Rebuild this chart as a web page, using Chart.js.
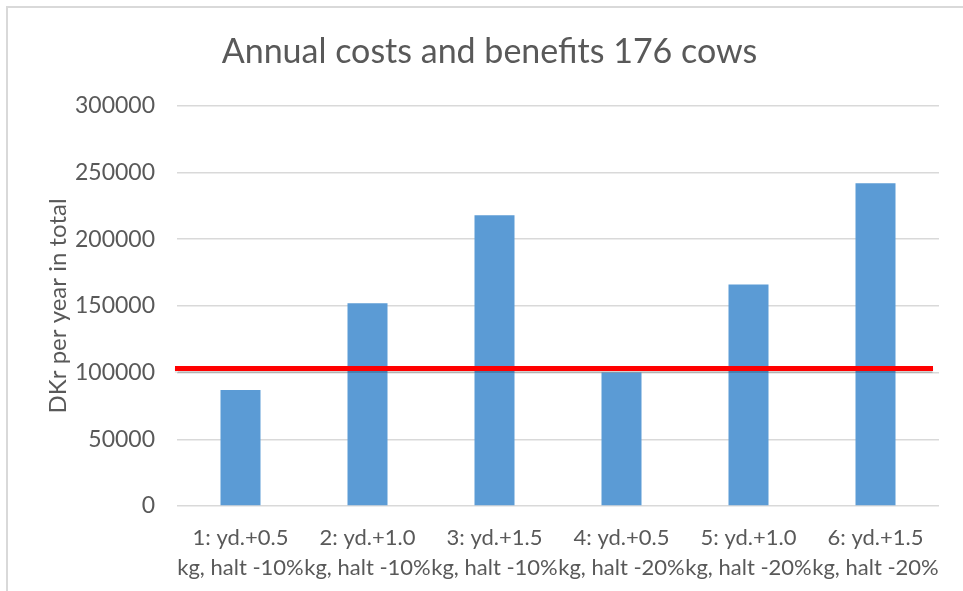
<!DOCTYPE html>
<html>
<head>
<meta charset="utf-8">
<title>Annual costs and benefits 176 cows</title>
<script src="https://cdn.jsdelivr.net/npm/chart.js@4"></script>
<style>
  html, body { margin: 0; padding: 0; background: #fff; }
  canvas { display: block; }
</style>
</head>
<body>
<canvas id="chart" width="963" height="591"></canvas>
<script>
// chart data
const categories = [
    ['1: yd.+0.5', 'kg, halt -10%'],
    ['2: yd.+1.0', 'kg, halt -10%'],
    ['3: yd.+1.5', 'kg, halt -10%'],
    ['4: yd.+0.5', 'kg, halt -20%'],
    ['5: yd.+1.0', 'kg, halt -20%'],
    ['6: yd.+1.5', 'kg, halt -20%']
];
const benefits = [87000, 152000, 218000, 100000, 166000, 242000];
const costLine = 103000;
const yTicks = [0, 50000, 100000, 150000, 200000, 250000, 300000];

const textColor = '#595959';
const gridColor = '#d9d9d9';

// light frame round the chart, like the pasted Excel picture
const framePlugin = {
    id: 'frame',
    beforeDraw(chart) {
        const ctx = chart.ctx;
        ctx.save();
        ctx.fillStyle = '#fff';
        ctx.fillRect(0, 0, chart.width, chart.height);
        ctx.strokeStyle = gridColor;
        ctx.lineWidth = 2;
        ctx.beginPath();
        ctx.moveTo(7, chart.height);
        ctx.lineTo(7, 7);
        ctx.lineTo(chart.width, 7);
        ctx.stroke();
        ctx.restore();
    }
};

// red cost line across the bars
const costLinePlugin = {
    id: 'costLine',
    afterDatasetsDraw(chart) {
        const ctx = chart.ctx;
        const area = chart.chartArea;
        const y = chart.scales.y.getPixelForValue(costLine);
        ctx.save();
        ctx.shadowColor = 'rgba(0,0,0,0.18)';
        ctx.shadowOffsetY = 2;
        ctx.shadowBlur = 1;
        ctx.strokeStyle = '#ff0000';
        ctx.lineWidth = 5;
        ctx.beginPath();
        ctx.moveTo(area.left - 2, y);
        ctx.lineTo(area.right - 6, y);
        ctx.stroke();
        ctx.restore();
    }
};

new Chart(document.getElementById('chart'), {
    type: 'bar',
    data: {
        labels: categories,
        datasets: [{
            data: benefits,
            backgroundColor: '#5b9bd5',
            borderWidth: 0,
            barPercentage: 0.315,
            categoryPercentage: 1
        }]
    },
    plugins: [framePlugin, costLinePlugin],
    options: {
        responsive: false,
        animation: false,
        layout: { padding: { left: 40, right: 24, top: 0, bottom: 0 } },
        plugins: {
            legend: { display: false },
            tooltip: { enabled: false },
            title: {
                display: true,
                text: 'Annual costs and benefits 176 cows',
                color: textColor,
                font: { family: 'Lato', size: 34, weight: 'normal' },
                padding: { top: 32, bottom: 33 }
            }
        },
        scales: {
            x: {
                grid: { display: false },
                border: { display: false },
                afterFit(scale) { scale.height = 85; },
                ticks: {
                    color: textColor,
                    font: { family: 'Lato', size: 22, lineHeight: 1.364 },
                    padding: 9,
                    maxRotation: 0,
                    minRotation: 0,
                    autoSkip: false
                }
            },
            y: {
                min: 0,
                max: 300000,
                afterFit(scale) { scale.width = 137; },
                afterBuildTicks(scale) {
                    scale.ticks = yTicks.map(v => ({ value: v }));
                },
                grid: { color: gridColor, lineWidth: 1.5, drawTicks: false },
                border: { display: false },
                title: {
                    display: true,
                    text: 'DKr per year in total',
                    color: textColor,
                    font: { family: 'Lato', size: 24 }
                },
                ticks: {
                    color: textColor,
                    font: { family: 'Lato', size: 23 },
                    padding: 22,
                    callback: v => String(v)
                }
            }
        }
    }
});
</script>
</body>
</html>
